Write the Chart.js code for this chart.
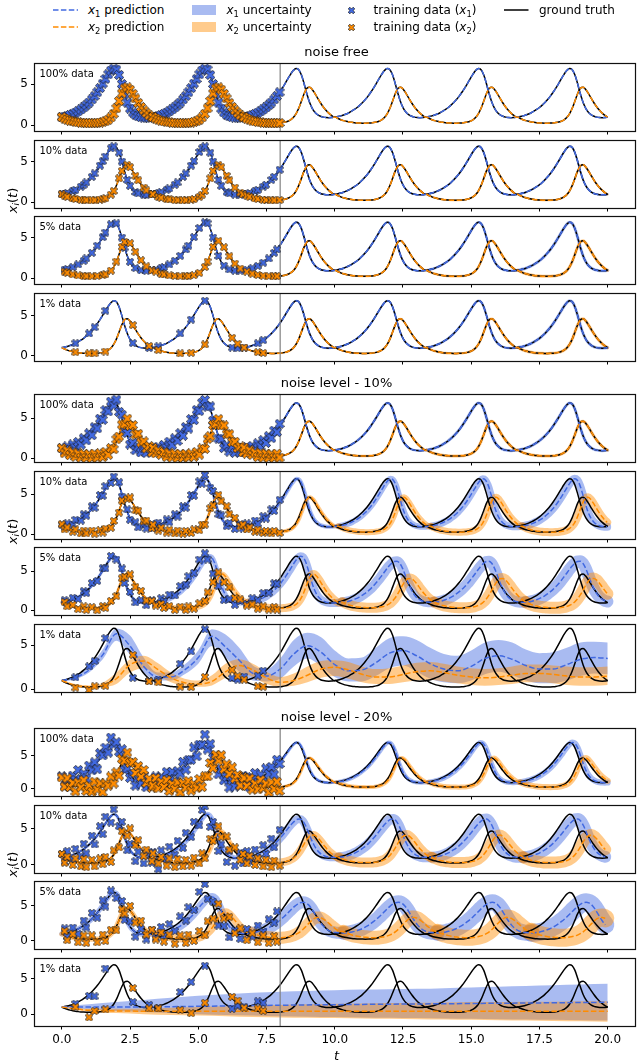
<!DOCTYPE html>
<html><head><meta charset="utf-8">
<script src="https://cdn.jsdelivr.net/npm/chart.js@4.4.1/dist/chart.umd.min.js"></script>
<style>
html,body{margin:0;padding:0;background:#fff;}
body{width:640px;height:1062px;position:relative;overflow:hidden;font-family:"DejaVu Sans",sans-serif;color:#000;}
canvas.panel{position:absolute;left:0;}
.txt{position:absolute;white-space:nowrap;line-height:1;}
sub{font-size:70%;vertical-align:-0.3em;line-height:0;}
.hd{position:absolute;line-height:0;}
.hd svg{display:block;}
</style></head><body>
<script>
// ---------------- DATA ----------------
// one predator-prey cycle of the ground truth, phase in t units
const cycleT = [0,0.1,0.2,0.3,0.4,0.5,0.6,0.7,0.8,0.9,1.0,1.1,1.2,1.3,1.4,1.5,1.6,1.7,1.8,1.9,2.0,2.1,2.2,2.3,2.4,2.5,2.6,2.7,2.8,2.9,3.0,3.1,3.2,3.3];
const gtCycleX1 = [1.000,1.061,1.145,1.250,1.379,1.533,1.715,1.926,2.172,2.455,2.778,3.147,3.562,4.027,4.538,5.090,5.661,6.213,6.673,6.918,6.784,6.137,5.041,3.808,2.768,2.035,1.563,1.270,1.093,0.992,0.941,0.928,0.944,0.983];
const gtCycleX2 = [1.000,0.821,0.679,0.566,0.478,0.410,0.357,0.317,0.288,0.269,0.259,0.257,0.267,0.288,0.328,0.393,0.498,0.669,0.948,1.394,2.071,2.966,3.886,4.503,4.630,4.346,3.842,3.270,2.721,2.234,1.821,1.480,1.203,0.981];
// damped predicted cycles (lower, broader peaks)
const dampCycleX1 = [1.05,1.08,1.14,1.23,1.35,1.49,1.66,1.86,2.09,2.35,2.65,2.99,3.37,3.79,4.24,4.71,5.19,5.63,6.00,6.24,6.28,6.02,5.40,4.52,3.60,2.80,2.17,1.72,1.42,1.23,1.12,1.06,1.04,1.04];
const dampCycleX2 = [1.05,0.88,0.74,0.63,0.54,0.47,0.42,0.38,0.35,0.33,0.32,0.32,0.33,0.36,0.41,0.49,0.61,0.79,1.06,1.44,1.94,2.55,3.19,3.72,4.03,4.08,3.88,3.50,3.03,2.55,2.11,1.73,1.42,1.18];
const wideCycleX1 = [1.15,1.17,1.21,1.28,1.37,1.49,1.63,1.80,2.00,2.23,2.49,2.78,3.10,3.45,3.83,4.22,4.61,4.97,5.26,5.45,5.52,5.43,5.15,4.68,4.07,3.42,2.81,2.29,1.88,1.58,1.38,1.26,1.19,1.16];
const wideCycleX2 = [1.30,1.13,0.98,0.86,0.76,0.68,0.61,0.56,0.52,0.49,0.47,0.46,0.47,0.50,0.55,0.62,0.72,0.87,1.07,1.33,1.66,2.05,2.47,2.86,3.17,3.34,3.36,3.22,2.97,2.66,2.32,1.99,1.69,1.43];
// cycle start times (read from peak positions)
const gtStarts = [0,3.34,6.68,10.02,13.36,16.70];
const predStartsP6 = [0,3.34,6.71,10.14,13.52,16.88];
const predStartsP7 = [0,3.49,6.84,10.28,13.65,16.99];
const predShapesP7 = ['A','A','A','B','B','B'];
const predStartsP9 = [0,3.34,6.70,10.07,13.44,16.80];
const predStartsP10 = [0,3.42,6.73,10.15,13.56,16.91];
const predShapesP10 = ['A','A','B','B','B','B'];
const predStartsP11 = [0,3.52,6.84,10.33,13.77,17.21];
const predShapesP11 = ['A','B','C','C','C','C'];
const allA = ['A','A','A','A','A','A'];
const trainEnd = 8;
const tEnd = 20;
const xTicks = [0,2.5,5,7.5,10,12.5,15,17.5,20];

// training subsets (indices into the ground-truth time grid)
const idx10 = [0,1,2,4,5,7,8,9,11,12,14,15,16,18,19,21,22,24,25,27,28,30,31,33,34,36,37,39,40,42,43,45,46,48,49,51,52,53,55,56,58,59,61,62,64,66,67,69,70,72,73,75,76,78,79,81];
const idx5 = [1,2,4,6,8,9,11,13,15,16,18,20,22,23,25,27,29,31,33,35,37,38,40,42,44,46,47,49,51,53,54,56,58,60,62,64,66,69,71,73,75,77,79,80];
const idx1 = [5,10,12,16,26,32,36,44,48,53,63,65,68,73,75];

// noisy training data, noise level 10%
const n10d100X1 = [1.25,0.82,1.45,1.02,1.71,1.30,2.01,1.68,2.50,2.21,3.10,2.86,3.88,3.72,4.95,4.80,6.02,5.85,7.10,6.60,7.35,5.80,5.45,3.50,3.15,1.70,1.90,0.98,1.42,0.70,1.25,0.62,1.28,0.75,
 1.30,0.78,1.42,1.05,1.66,1.28,2.05,1.62,2.48,2.15,3.12,2.80,3.90,3.70,4.90,4.75,6.05,5.90,6.95,7.30,6.45,6.50,4.70,4.15,2.45,2.38,1.25,1.60,0.80,1.32,0.65,1.22,0.70,1.30,
 0.78,1.35,0.90,1.52,1.12,1.85,1.45,2.25,1.90,2.75,2.50,3.45,3.25,4.30];
const n10d100X2 = [1.25,0.60,0.95,0.35,0.72,0.15,0.58,0.05,0.52,0.02,0.48,-0.02,0.55,0.05,0.60,0.12,0.78,0.40,1.25,1.10,2.35,2.70,4.20,4.25,4.95,4.05,4.15,2.95,3.05,1.95,2.10,1.20,1.50,0.70,
 1.28,0.58,0.95,0.40,0.75,0.14,0.60,0.06,0.55,0.00,0.50,0.02,0.52,0.08,0.58,0.15,0.75,0.42,1.20,1.15,2.40,2.75,4.15,4.30,4.90,4.10,4.10,3.00,3.00,2.00,2.05,1.25,1.45,0.72,
 1.30,0.55,0.98,0.38,0.70,0.12,0.62,0.05,0.55,0.02,0.48,0.03,0.55,0.06];
const n10d10X1 = [1.2,0.85,1.35,1.2,1.8,1.7,2.5,2.3,3.5,3.3,4.9,4.8,6.0,6.4,7.2,6.5,4.7,3.1,1.8,1.5,0.85,1.2,0.7,1.25,0.75,1.45,1.0,1.85,1.5,2.5,2.2,3.5,3.3,4.9,4.8,6.6,6.3,7.4,5.8,5.4,2.5,2.35,1.0,1.4,0.65,1.25,0.7,1.35,0.9,1.7,1.3,2.25,1.95,3.1,2.9,4.3];
const n10d10X2 = [1.25,0.6,0.85,0.3,0.6,0.1,0.45,0.1,0.45,0.05,0.5,0.2,0.7,0.8,1.65,2.7,4.2,4.4,4.6,3.0,2.95,1.6,1.7,0.75,1.2,0.45,0.8,0.2,0.55,0.1,0.45,0.05,0.4,0.15,0.6,0.5,1.2,1.2,3.25,3.6,4.9,4.1,3.5,2.5,2.05,1.0,1.2,0.6,0.85,0.3,0.55,0.15,0.4,0.1,0.4,0.15];
const n10d5X1 = [1.3,0.9,1.6,1.45,2.45,2.2,3.5,3.75,5.4,5.35,6.95,6.5,5.35,3.5,2.35,1.0,1.3,0.65,1.3,0.8,1.55,1.15,2.0,1.9,3.1,3.3,4.35,4.8,6.5,7.3,6.5,4.7,3.1,1.3,1.4,0.7,1.2,0.8,1.55,1.3,2.2,2.25,3.45,3.4];
const n10d5X2 = [1.05,0.5,0.7,0.15,0.5,0.05,0.4,0.0,0.55,0.3,1.2,1.8,4.1,4.3,4.6,3.0,2.5,1.25,1.2,0.6,0.8,0.3,0.55,0.05,0.45,0.05,0.5,0.2,0.9,1.2,2.3,3.6,4.85,3.6,2.95,1.6,1.4,0.6,0.75,0.2,0.5,0.1,0.4,0.1];
const n10d1X1 = [1.35,2.6,3.2,5.8,1.3,0.95,1.05,2.9,4.3,6.8,1.25,1.1,1.45,1.55,2.1];
const n10d1X2 = [0.2,-0.1,0.35,0.4,3.9,0.9,0.8,0.3,0.25,1.4,2.2,1.5,1.1,0.35,0.3];
// noisy training data, noise level 20%
const n20d100X1 = [1.9,0.36,1.45,0.25,1.98,1.33,2.82,1.43,2.27,1.56,3.48,2.75,3.96,2.93,5.34,4.99,6.16,5.41,7.67,6.62,6.98,5.54,5.94,2.81,3.07,1.64,2.26,0.47,1.59,0.79,1.94,0.23,1.14,0.48,
 0.40,1.86,0.95,1.75,0.48,2.53,1.42,2.53,1.17,2.66,2.28,4.05,2.86,4.33,4.34,6.19,4.86,6.61,6.57,8.12,5.88,6.74,4.64,4.61,2.17,2.94,1.26,1.77,0.19,1.29,0.34,1.73,0.54,1.98,
 0.60,1.76,0.25,1.45,2.38,0.93,2.12,1.13,3.07,2.26,3.28,2.15,4.36,3.73];
const n20d100X2 = [1.70,0.32,1.58,0.27,0.88,-0.39,0.96,0.22,1.29,-0.33,0.46,-0.44,1.07,-0.11,0.83,-0.51,0.80,0.47,1.85,0.79,2.47,1.97,4.49,4.20,5.43,3.85,4.04,2.37,3.42,1.83,2.82,0.88,1.50,0.18,
 0.50,1.62,0.08,1.07,0.28,1.31,-0.34,0.72,-0.01,0.97,-0.54,0.86,0.17,1.19,-0.27,0.69,0.10,1.47,0.25,1.89,1.87,3.87,3.09,5.10,4.23,5.05,2.94,3.67,2.22,3.23,1.52,2.08,0.50,1.78,
 1.60,0.42,1.58,-0.13,0.78,-0.09,1.36,0.12,0.79,-0.53,0.96,-0.04,1.07,-0.31];
const n20d10X1 = [1.5,0.4,1.9,0.7,2.2,1.2,2.9,1.6,4.0,2.8,5.3,4.2,6.6,5.8,7.6,5.3,5.9,2.0,2.9,0.5,1.8,0.2,1.6,0.3,1.8,-0.6,2.0,0.8,2.5,1.4,3.3,2.3,4.4,3.8,5.9,5.4,7.5,8.0,5.2,5.9,1.9,2.8,0.4,1.9,-0.1,1.7,0.2,1.9,0.5,2.1,0.9,2.7,1.5,3.6,2.4,4.8];
const n20d10X2 = [1.5,0.3,1.1,0.0,0.9,-0.2,0.8,-0.3,0.7,-0.2,0.9,0.1,1.1,0.4,2.0,2.4,4.6,4.0,5.0,2.7,3.4,1.2,2.1,0.5,1.6,0.2,1.1,-0.1,0.9,-0.3,0.8,-0.2,0.7,-0.1,1.0,0.2,1.6,0.9,3.6,3.3,5.3,3.8,3.9,2.1,2.4,0.7,1.5,0.2,1.2,0.0,0.9,-0.2,0.7,-0.3,0.6,-0.1];
const n20d5X1 = [1.8,0.6,1.9,1.0,2.9,1.9,4.0,3.3,5.8,4.9,7.2,6.1,5.7,3.0,2.8,0.6,1.7,0.2,1.6,0.4,2.0,0.7,2.4,1.4,3.5,2.9,4.8,4.4,7.0,8.1,6.0,5.6,2.2,2.1,0.5,1.5,0.3,1.7,0.6,2.2,1.3,3.1,2.6,4.2];
const n20d5X2 = [1.4,0.1,1.0,-0.2,0.8,-0.3,0.8,-0.2,0.9,0.0,1.6,1.5,4.5,3.9,5.0,2.6,2.9,0.9,1.6,0.2,1.2,-0.1,0.9,-0.4,0.8,-0.3,0.9,0.0,1.4,0.8,2.8,3.2,5.3,3.2,3.4,1.1,1.8,0.1,1.1,-0.2,0.8,-0.3,0.7,-0.1];
const n20d1X1 = [1.46,2.57,2.5,6.4,1.7,1.3,0.9,3.1,4.5,6.8,0.75,1.2,1.05,1.8,1.6];
const n20d1X2 = [1.0,-0.45,0.45,0.66,3.67,0.8,0.8,0.57,0.13,1.6,2.43,1.9,0.9,0.8,0.45];

// predictions of the 1%-data models (mean and uncertainty band)
const tHalf = [0,0.5,1,1.5,2,2.5,3,3.5,4,4.5,5,5.5,6,6.5,7,7.5,8,8.5,9,9.5,10,10.5,11,11.5,12,12.5,13,13.5,14,14.5,15,15.5,16,16.5,17,17.5,18,18.5,19,19.5,20];
const p8X1Mean = [1.0,1.35,2.2,3.9,6.3,4.9,2.6,1.4,1.4,2.2,3.6,6.0,4.8,3.3,1.8,1.5,2.3,4.0,4.95,4.2,2.8,2.1,2.2,3.0,4.1,4.4,3.8,2.9,2.3,2.1,2.6,3.5,3.8,3.4,2.7,2.3,2.3,2.8,3.4,3.6,3.5];
const p8X1Lo = [0.9,1.15,1.9,3.4,5.5,3.9,1.9,1.0,1.0,1.7,2.9,4.9,3.6,2.0,1.0,0.9,1.2,2.6,3.5,2.6,1.4,0.9,0.9,1.5,2.4,2.7,2.0,1.2,0.8,0.7,1.0,1.7,2.0,1.6,1.0,0.7,0.7,1.0,1.5,1.8,1.7];
const p8X1Hi = [1.1,1.6,2.6,4.5,6.9,6.1,3.6,1.9,1.9,2.8,4.4,6.8,6.2,4.7,2.7,2.3,3.5,5.6,6.4,5.9,4.4,3.5,3.6,4.7,5.8,6.0,5.6,4.7,4.0,3.8,4.4,5.3,5.6,5.3,4.5,4.1,4.2,4.7,5.3,5.4,5.3];
const p8X2Mean = [1.0,0.45,0.3,0.45,1.2,2.8,3.2,2.3,1.3,0.75,0.6,0.9,2.0,2.7,2.2,1.3,0.8,1.0,1.6,2.3,2.5,2.2,1.7,1.4,1.4,1.7,2.0,2.1,1.9,1.6,1.4,1.3,1.4,1.6,1.8,1.8,1.7,1.5,1.4,1.4,1.5];
const p8X2Lo = [0.9,0.3,0.15,0.25,0.6,1.9,2.4,1.6,0.8,0.4,0.3,0.45,1.3,1.9,1.4,0.6,0.3,0.4,0.8,1.3,1.5,1.2,0.8,0.6,0.6,0.8,1.0,1.1,0.9,0.7,0.5,0.4,0.5,0.6,0.8,0.8,0.7,0.5,0.4,0.4,0.5];
const p8X2Hi = [1.1,0.6,0.45,0.75,1.9,3.4,3.8,3.0,1.9,1.2,1.0,1.6,2.9,3.4,2.9,2.0,1.4,1.8,2.6,3.2,3.3,3.1,2.6,2.3,2.4,2.7,3.0,3.1,2.9,2.6,2.4,2.3,2.4,2.6,2.8,2.8,2.7,2.6,2.5,2.5,2.6];
const tWhole = [0,1,2,3,4,5,6,7,8,9,10,11,12,13,14,15,16,17,18,19,20];
const p12X1Mean = [1.05,1.0,1.0,1.02,1.05,1.1,1.15,1.2,1.25,1.3,1.33,1.37,1.4,1.43,1.46,1.5,1.53,1.56,1.6,1.63,1.67];
const p12X1Lo = [0.95,0.65,0.45,0.3,0.15,0.0,-0.1,-0.2,-0.3,-0.35,-0.4,-0.45,-0.5,-0.55,-0.6,-0.65,-0.7,-0.75,-0.8,-0.85,-0.9];
const p12X1Hi = [1.15,1.4,1.7,2.0,2.3,2.6,2.8,3.0,3.15,3.25,3.35,3.45,3.5,3.55,3.65,3.75,3.85,3.95,4.05,4.15,4.25];
const p12X2Mean = [1.0,0.55,0.45,0.42,0.41,0.4,0.4,0.4,0.4,0.4,0.4,0.4,0.4,0.4,0.4,0.4,0.4,0.4,0.4,0.4,0.4];
const p12X2Lo = [0.95,0.35,0.15,0.0,-0.1,-0.2,-0.3,-0.4,-0.45,-0.5,-0.55,-0.6,-0.65,-0.7,-0.75,-0.8,-0.85,-0.9,-0.95,-1.0,-1.05];
const p12X2Hi = [1.05,0.75,0.75,0.8,0.9,1.0,1.1,1.2,1.3,1.4,1.45,1.5,1.55,1.6,1.65,1.7,1.7,1.75,1.75,1.8,1.8];

// ---------------- STYLE ----------------
Chart.defaults.font.family = "'DejaVu Sans', sans-serif";
Chart.defaults.color = '#000';
const BLUE = '#4169e1', ORANGE = '#ff8c00';
const BLUE_BAND = 'rgba(65,105,225,0.45)', ORANGE_BAND = 'rgba(255,140,0,0.45)';
const PANEL_H = 70;

function makeMarker(color, size){
  const c = document.createElement('canvas'); c.width = c.height = size;
  const g = c.getContext('2d'); g.translate(size/2, size/2); g.rotate(Math.PI/4);
  const a = size*0.5, w = size*0.16;
  g.beginPath();
  g.moveTo(-w,-a); g.lineTo(w,-a); g.lineTo(w,-w); g.lineTo(a,-w); g.lineTo(a,w); g.lineTo(w,w);
  g.lineTo(w,a); g.lineTo(-w,a); g.lineTo(-w,w); g.lineTo(-a,w); g.lineTo(-a,-w); g.lineTo(-w,-w); g.closePath();
  g.fillStyle = color; g.fill(); g.lineWidth = 0.7; g.strokeStyle = '#1a1a1a'; g.stroke();
  return c;
}

// ---------------- BUILD SERIES ----------------
const shapeLib = {A:[gtCycleX1,gtCycleX2], B:[dampCycleX1,dampCycleX2], C:[wideCycleX1,wideCycleX2]};
function placeCycles(starts, keys, s){
  const out = [];
  starts.forEach((st,n)=>{
    const vals = shapeLib[keys[n]][s];
    cycleT.forEach((ph,k)=>{ const x = Math.round((st+ph)*1000)/1000; if (x <= tEnd) out.push({x, y: vals[k]}); });
  });
  return out;
}
function zip(T, V){ return T.map((t,i)=>({x:t, y:V[i]})); }
const gtX1 = placeCycles(gtStarts, allA, 0);
const gtX2 = placeCycles(gtStarts, allA, 1);
const idx100 = gtX1.map((p,i)=>i).filter(i=>gtX1[i].x < trainEnd);

const panels = [
 {top:61, ymin:-0.7, ymax:7.6, label:'100% data', idx:idx100, pred:'gt', band:null, mk:10},
 {top:138, ymin:-0.7, ymax:7.7, label:'10% data', idx:idx10, pred:'gt', band:[0,0,1.5,1.5,2,2]},
 {top:214, ymin:-0.7, ymax:7.7, label:'5% data', idx:idx5, pred:'gt', band:[0,0,2,2,2.5,3]},
 {top:291, ymin:-0.7, ymax:7.9, label:'1% data', idx:idx1, pred:'gt', band:[0,1,2,2,2.5,3]},
 {top:392, ymin:-0.5, ymax:8.05, label:'100% data', idx:idx100, v1:n10d100X1, v2:n10d100X2, pred:'gt', band:[1.5,1.5,2,2.5,3,3], mk:10},
 {top:469, ymin:-0.6, ymax:7.9, label:'10% data', idx:idx10, v1:n10d10X1, v2:n10d10X2, starts:predStartsP6, keys:allA, band:[2,3,4,6,7,8]},
 {top:545, ymin:-0.6, ymax:8.1, label:'5% data', idx:idx5, v1:n10d5X1, v2:n10d5X2, starts:predStartsP7, keys:predShapesP7, band:[3,5,8,10,11,12]},
 {top:622, ymin:-0.3, ymax:7.4, label:'1% data', idx:idx1, v1:n10d1X1, v2:n10d1X2, explicit:{T:tHalf, m1:p8X1Mean, lo1:p8X1Lo, hi1:p8X1Hi, m2:p8X2Mean, lo2:p8X2Lo, hi2:p8X2Hi}},
 {top:726, ymin:-1.07, ymax:9.1, label:'100% data', idx:idx100, v1:n20d100X1, v2:n20d100X2, starts:predStartsP9, keys:allA, band:[2,2,3,4,5,6], mk:10},
 {top:803, ymin:-1.1, ymax:8.2, label:'10% data', idx:idx10, v1:n20d10X1, v2:n20d10X2, starts:predStartsP10, keys:predShapesP10, band:[3,5,8,10,11,12]},
 {top:879, ymin:-1.15, ymax:8.55, label:'5% data', idx:idx5, v1:n20d5X1, v2:n20d5X2, starts:predStartsP11, keys:predShapesP11, band:[5,8,12,14,16,18]},
 {top:956, ymin:-1.66, ymax:7.88, label:'1% data', idx:idx1, v1:n20d1X1, v2:n20d1X2, explicit:{T:tWhole, m1:p12X1Mean, lo1:p12X1Lo, hi1:p12X1Hi, m2:p12X2Mean, lo2:p12X2Lo, hi2:p12X2Hi}},
];

const framePlugin = {id:'frame', afterDraw(chart){
  const {ctx, chartArea:a} = chart; ctx.save();
  ctx.strokeStyle = '#111'; ctx.lineWidth = 1.2;
  const x0 = Math.floor(a.left)+0.5, y0 = Math.floor(a.top)+0.5, x1 = Math.floor(a.right)+0.5, y1 = Math.floor(a.bottom)+0.5;
  ctx.strokeRect(x0, y0, x1-x0, y1-y0); ctx.restore();
}};

function lineDS(data, color, width, order, extra){
  return Object.assign({data, borderColor:color, backgroundColor:color, borderWidth:width, pointRadius:0,
    fill:false, order, clip:0, cubicInterpolationMode:'monotone'}, extra||{});
}
function widthFn(starts, widths){
  return ctx => { const x = ctx.p0.parsed.x; let n = 0;
    for (let i=0;i<starts.length;i++) if (x >= starts[i]-1e-6) n = i;
    return Math.max(widths[n], 0.01); };
}

// ---------------- TEXT HELPERS ----------------
function addText(html, x, yc, size, align, extra){
  const d = document.createElement('div'); d.className = 'txt';
  d.innerHTML = html; d.style.fontSize = size + 'px';
  d.style.left = x + 'px'; d.style.top = (yc - size*0.5) + 'px';
  if (align === 'center') d.style.transform = 'translateX(-50%)';
  if (extra) Object.assign(d.style, extra);
  document.body.appendChild(d); return d;
}

panels.forEach((p, i) => {
  const isBottom = i === panels.length-1;
  const xh = isBottom ? 34 : 6;
  const padTop = 3;
  const H = padTop + PANEL_H + xh;
  const cv = document.createElement('canvas');
  cv.className = 'panel'; cv.width = 640; cv.height = H;
  cv.style.top = (p.top - padTop) + 'px'; cv.style.width = '640px'; cv.style.height = H + 'px';
  document.body.appendChild(cv);

  const ds = [];
  let pred1, pred2;
  if (p.explicit) {
    const e = p.explicit;
    ds.push(lineDS(zip(e.T, e.lo1), 'rgba(0,0,0,0)', 0, 9));
    ds.push(lineDS(zip(e.T, e.hi1), 'rgba(0,0,0,0)', 0, 8, {fill:'-1', backgroundColor:BLUE_BAND}));
    ds.push(lineDS(zip(e.T, e.lo2), 'rgba(0,0,0,0)', 0, 9));
    ds.push(lineDS(zip(e.T, e.hi2), 'rgba(0,0,0,0)', 0, 7, {fill:'-1', backgroundColor:ORANGE_BAND}));
    pred1 = zip(e.T, e.m1); pred2 = zip(e.T, e.m2);
  } else {
    const starts = p.pred === 'gt' ? gtStarts : p.starts;
    const keys = p.pred === 'gt' ? allA : p.keys;
    pred1 = placeCycles(starts, keys, 0); pred2 = placeCycles(starts, keys, 1);
    if (p.band) {
      ds.push(lineDS(pred1, BLUE_BAND, Math.max(p.band[0],0.01), 8, {borderCapStyle:'round', borderJoinStyle:'round', segment:{borderWidth: widthFn(starts, p.band)}}));
      ds.push(lineDS(pred2, ORANGE_BAND, Math.max(p.band[0],0.01), 7, {borderCapStyle:'round', borderJoinStyle:'round', segment:{borderWidth: widthFn(starts, p.band)}}));
    }
  }
  ds.push(lineDS(gtX1, '#000', 1.5, 6));
  ds.push(lineDS(gtX2, '#000', 1.5, 6));
  ds.push(lineDS(pred1, BLUE, 1.5, 5, {borderDash:[5.5,2.4]}));
  ds.push(lineDS(pred2, ORANGE, 1.5, 4, {borderDash:[5.5,2.4]}));
  ds.push(lineDS([{x:trainEnd, y:p.ymin},{x:trainEnd, y:p.ymax}], '#808080', 1.2, 3, {cubicInterpolationMode:'default'}));
  const tr1 = p.idx.map((ix,j)=>({x:gtX1[ix].x, y: p.v1 ? p.v1[j] : gtX1[ix].y}));
  const tr2 = p.idx.map((ix,j)=>({x:gtX2[ix].x, y: p.v2 ? p.v2[j] : gtX2[ix].y}));
  const mk = p.mk || 8;
  ds.push({data:tr1, showLine:false, pointStyle:makeMarker(BLUE, mk), pointRadius:4, order:2, clip:0});
  ds.push({data:tr2, showLine:false, pointStyle:makeMarker(ORANGE, mk), pointRadius:4, order:1, clip:0});

  const gridOpt = {display:true, drawOnChartArea:false, drawTicks:true, tickLength:3.5, color:'#000', lineWidth:1};
  new Chart(cv, {
    type:'line',
    data:{datasets:ds},
    plugins:[framePlugin],
    options:{
      responsive:false, animation:false, events:[],
      layout:{padding:{top:padTop, right:1.5, left:0, bottom:0}},
      plugins:{legend:{display:false}, tooltip:{enabled:false}},
      scales:{
        x:{type:'linear', min:-1, max:21,
          afterFit:s=>{ s.height = xh; s.paddingLeft = 0; s.paddingRight = 0; },
          afterBuildTicks:s=>{ s.ticks = xTicks.map(v=>({value:v})); },
          ticks:{color: isBottom ? '#000' : 'rgba(0,0,0,0)', font:{size:12}, maxRotation:0, autoSkip:false, padding:3, callback:v=>Number(v).toFixed(1)},
          grid:gridOpt, border:{display:false}},
        y:{type:'linear', min:p.ymin, max:p.ymax,
          afterFit:s=>{ s.width = 34.5; s.paddingTop = 0; s.paddingBottom = 0; },
          ticks:{stepSize:5, includeBounds:false, color:'#000', font:{size:12}, padding:3, callback:v=>String(v)},
          grid:gridOpt, border:{display:false}}
      }
    }
  });

  addText(p.label, 39.5, p.top + 12.5, 10, 'left');
});

// ---------------- TITLES / AXIS LABELS ----------------
const titles = [['noise free', 61], ['noise level - 10%', 392], ['noise level - 20%', 726]];
titles.forEach(([t, top]) => addText(t, 336.5, top - 10, 13, 'center'));
[200, 531, 864].forEach(yc => {
  const d = addText('<i>x</i><sub><i>i</i></sub>(<i>t</i>)', 12, yc, 13, 'left');
  d.style.transform = 'translate(-50%,0) rotate(-90deg)';
});
addText('<i>t</i>', 336.5, 1055, 13, 'center');

// ---------------- LEGEND ----------------
function svgEl(html, x, y, w, h){
  const d = document.createElement('div'); d.className = 'hd';
  d.style.left = x+'px'; d.style.top = y+'px';
  d.innerHTML = `<svg width="${w}" height="${h}" xmlns="http://www.w3.org/2000/svg">${html}</svg>`;
  document.body.appendChild(d);
}
const r1 = 10, r2 = 27;
svgEl(`<line x1="0" y1="2" x2="25" y2="2" stroke="${BLUE}" stroke-width="1.5" stroke-dasharray="5.5,2.4"/>`, 53, r1-2, 25, 4);
svgEl(`<line x1="0" y1="2" x2="25" y2="2" stroke="${ORANGE}" stroke-width="1.5" stroke-dasharray="5.5,2.4"/>`, 53, r2-2, 25, 4);
addText('<i>x</i><sub>1</sub> prediction', 88, r1, 12, 'left');
addText('<i>x</i><sub>2</sub> prediction', 88, r2, 12, 'left');
svgEl(`<rect x="0" y="0" width="24" height="10" fill="${BLUE_BAND}"/>`, 192, r1-5, 24, 10);
svgEl(`<rect x="0" y="0" width="24" height="10" fill="${ORANGE_BAND}"/>`, 192, r2-5, 24, 10);
addText('<i>x</i><sub>1</sub> uncertainty', 226.5, r1, 12, 'left');
addText('<i>x</i><sub>2</sub> uncertainty', 226.5, r2, 12, 'left');
[[BLUE, r1],[ORANGE, r2]].forEach(([c, y]) => {
  const m = makeMarker(c, 7); m.style.position = 'absolute'; m.style.left = (351-3.5)+'px'; m.style.top = (y-3.5)+'px';
  document.body.appendChild(m);
});
addText('training data (<i>x</i><sub>1</sub>)', 373.5, r1, 12, 'left');
addText('training data (<i>x</i><sub>2</sub>)', 373.5, r2, 12, 'left');
svgEl(`<line x1="0" y1="2" x2="24.5" y2="2" stroke="#000" stroke-width="1.5"/>`, 504, r1-2, 25, 4);
addText('ground truth', 539, r1, 12, 'left');
</script></body></html>
